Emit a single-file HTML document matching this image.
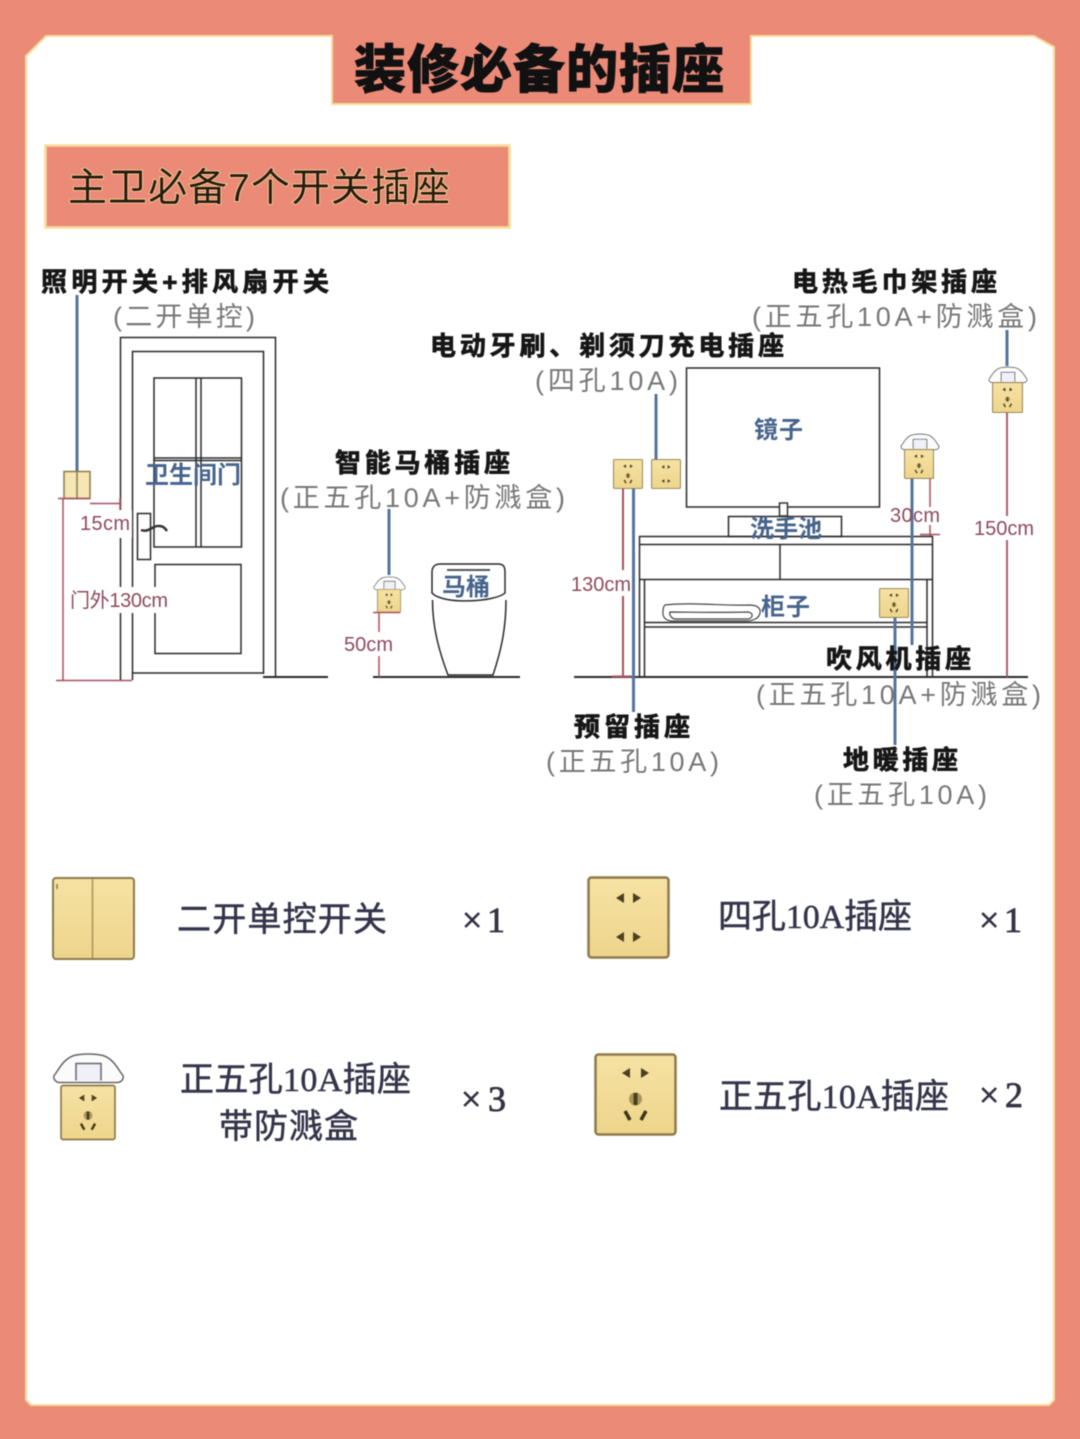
<!DOCTYPE html>
<html lang="zh"><head><meta charset="utf-8"><style>
html,body{margin:0;padding:0;background:#ec8a78}
svg{display:block;filter:blur(.55px)}
text{font-family:"Liberation Sans","Noto Sans CJK SC",sans-serif}
.lb{font-size:26px;font-weight:700;fill:#161616;stroke:#161616;stroke-width:.7}
.sb{font-size:27px;fill:#777}
.bl{font-size:24px;font-weight:700;fill:#46648c}
.rd{font-size:20px;fill:#8e4a5c}
.it{font-size:34px;fill:#34344a;stroke:#34344a;stroke-width:.5;font-family:"Liberation Serif","Noto Sans CJK SC",serif}
.q{font-size:36px;fill:#333344;stroke:#333344;stroke-width:.8;font-family:"Liberation Serif",serif}
.k{fill:none;stroke:#2a2a2a;stroke-width:1.5}
.bw{stroke:#55759c;stroke-width:3;fill:none}
.rw{stroke:#a8505c;stroke-width:1.5;fill:none}
</style></head><body>
<svg width="1080" height="1439" viewBox="0 0 1080 1439" xmlns="http://www.w3.org/2000/svg">
<defs>
<linearGradient id="g" x1="0" y1="0" x2="0" y2="1"><stop offset="0" stop-color="#f6e2a4"/><stop offset="1" stop-color="#eed58c"/></linearGradient>
<symbol id="s5" viewBox="0 0 83 83"><rect x="1.500" y="1.500" width="80" height="80" rx="3" fill="url(#g)" stroke="#8d7a4a" stroke-width="2.500"/><path d="M28 20l8-5v10zM55 20l-8-5v10z" fill="#4c3f20"/><circle cx="41.500" cy="46" r="6.500" fill="#a8965a"/><rect x="39.500" y="40" width="4" height="12" fill="#4c3f20"/><path d="M31 58l5 9M52 58l-5 9" stroke="#3f3418" stroke-width="3.500"/></symbol>
<symbol id="s4" viewBox="0 0 83 83"><rect x="1.500" y="1.500" width="80" height="80" rx="3" fill="url(#g)" stroke="#8d7a4a" stroke-width="2.500"/><path d="M29 22l8-5v10zM54 22l-8-5v10zM29 61l8-5v10zM54 61l-8-5v10z" fill="#4c3f20"/></symbol>
<symbol id="cv" viewBox="0 0 73 30"><path d="M2 22C6 18 10 6 22 2c8-2 21-2 29 0 12 4 16 16 20 20 1 4-2 7-6 7H8c-4 0-7-3-6-7z" fill="#fbfbfb" stroke="#666" stroke-width="1.500"/><path d="M24 27V10h25v17" fill="#f0f0f8" stroke="#666" stroke-width="1.500"/></symbol>
</defs>
<rect width="1080" height="1439" fill="#ec8a78"/>
<path d="M46 36H1034L1054 47V1400L1049 1405H31L26 1400V56Z" fill="#fff" stroke="#f7dc98" stroke-width="2"/>
<!-- title -->
<path d="M332 36V104H751V36" fill="#ec8a78" stroke="#f7dc98" stroke-width="2"/><rect x="333" y="30" width="417" height="8" fill="#ec8a78"/>
<text x="354" y="88" font-size="52" font-weight="900" textLength="370" lengthAdjust="spacing" fill="#111" stroke="#111" stroke-width=".8">装修必备的插座</text>
<rect x="45.500" y="145.500" width="464" height="82" fill="#ec8a78" stroke="#f7dc98" stroke-width="2.500"/>
<text x="68" y="201" font-size="39" textLength="382" lengthAdjust="spacing" fill="#2a1a10" stroke="#f7dc98" stroke-width="1.600" style="paint-order:stroke">主卫必备7个开关插座</text>

<!-- left labels -->
<text class="lb" x="41" y="291" textLength="288" lengthAdjust="spacing">照明开关+排风扇开关</text>
<text class="sb" x="113" y="326" textLength="142" lengthAdjust="spacing">(二开单控)</text>
<text class="lb" x="335" y="472" textLength="175" lengthAdjust="spacing">智能马桶插座</text>
<text class="sb" x="280" y="507" textLength="285" lengthAdjust="spacing">(正五孔10A+防溅盒)</text>

<!-- door -->
<path class="k" d="M120.500 680V337.500H275.500V677M132.500 680V351.500H263.500V674M132.500 673H263.500"/>
<path class="k" d="M154 547V378H241.500V547ZM196 378V547M201 378V547M154 458H241M154 460.500H241"/>
<rect class="k" x="155" y="564.500" width="86" height="89"/>
<rect x="137.500" y="513.500" width="13" height="46" fill="#fff" stroke="#2a2a2a" stroke-width="1.500"/>
<path d="M141 530c8 3 12-5 18-4 4 0 6 2 8 5" fill="none" stroke="#333" stroke-width="2.500"/>
<path class="k" d="M263 677H328M373 677H520M574 677H1028" style="stroke-width:2"/>
<path class="bw" d="M77 295V471"/>
<rect x="64" y="471.500" width="26" height="27" fill="#f6e6b4" stroke="#8d7a4a" stroke-width="1.500"/><path d="M77 472V498" stroke="#8d7a4a" stroke-width="1.500"/>
<path class="rw" d="M58 498.500H90M63 498V680M56 680.500H132M90 503.500H120M120 498V510"/>
<rect x="118" y="510" width="14" height="28" fill="#fff"/>
<text class="rd" x="80" y="530" textLength="50" lengthAdjust="spacing">15cm</text>
<rect x="70" y="587" width="98" height="26" fill="#fff"/>
<text class="rd" x="70" y="607" textLength="98" lengthAdjust="spacing">门外130cm</text>
<text class="bl" x="145" y="483" textLength="96" lengthAdjust="spacing">卫生间门</text>

<!-- toilet -->
<path class="bw" d="M389 509V575"/>
<use href="#cv" x="373" y="576" width="33" height="15"/>
<use href="#s5" x="377" y="589" width="24" height="24"/>
<path class="rw" d="M373 612.500H400M379 613V632M379 656V677" />
<text class="rd" x="344" y="651" textLength="49" lengthAdjust="spacing">50cm</text>
<path class="k" d="M432 572c0-5 3-8 8-8h58c5 0 7 2 7 8v21c-10 9-62 12-73 0ZM432.500 600c0 30 8 55 15.500 75H493c8-24 13-46 13-75"/>
<path d="M447 570H490" stroke="#555" stroke-width="2"/>
<text class="bl" x="442" y="595" textLength="48" lengthAdjust="spacing">马桶</text>

<!-- middle labels -->
<text class="lb" x="430" y="355" textLength="354" lengthAdjust="spacing">电动牙刷、剃须刀充电插座</text>
<text class="sb" x="535" y="390" textLength="143" lengthAdjust="spacing">(四孔10A)</text>
<text class="lb" x="792" y="291" textLength="205" lengthAdjust="spacing">电热毛巾架插座</text>
<text class="sb" x="752" y="326" textLength="285" lengthAdjust="spacing">(正五孔10A+防溅盒)</text>

<!-- vanity -->
<rect class="k" x="686.500" y="368" width="193" height="139"/>
<rect x="779.500" y="503" width="8" height="13" fill="#fff" stroke="#333" stroke-width="1.500"/>
<rect class="k" x="728.500" y="516.500" width="113" height="20"/>
<path class="k" d="M639.500 676V536.500H932.500V676M639.500 544.500H932.500M639.500 579.500H932.500M780 545V579M644.500 580V676M927 580V676M644 622.500H927M644 627H927"/>
<path d="M665 605c25-3 60 1 84 0 8 0 12 3 11 8-1 6-8 8-14 8H672c-6 0-10-4-9-10 0-3 1-5 2-6ZM670 612c20 0 50 1 78 0 6 1 5 6 0 7H676c-5 0-7-5-6-7Z" fill="#fff" stroke="#444" stroke-width="1.200"/>
<text class="bl" x="754" y="438" textLength="49" lengthAdjust="spacing">镜子</text>
<text class="bl" x="750" y="537" textLength="72" lengthAdjust="spacing">洗手池</text>
<text class="bl" x="761" y="615" textLength="49" lengthAdjust="spacing">柜子</text>

<!-- sockets & wires -->
<path class="rw" d="M623 488V570M623 596V677M612 676.500H635" style="stroke-width:2"/>
<path class="bw" d="M633.500 488V712M656 394V460M895 617V745M912 478V645M1007 330V366"/>
<path class="rw" d="M920 477.500H934M930 478V507M930 525V536M920 534.500H940"/>
<path class="rw" d="M1007 412V516M1007 540V677" style="stroke:#a86470;stroke-width:2"/>
<use href="#s5" x="613" y="459" width="30" height="30"/>
<use href="#s4" x="651" y="459" width="30" height="30"/>
<use href="#s5" x="879" y="588" width="30" height="30"/>
<use href="#cv" x="900" y="433" width="40" height="18"/>
<use href="#s5" x="904" y="449" width="30" height="30"/>
<use href="#cv" x="988" y="366" width="40" height="18"/>
<use href="#s5" x="992" y="382" width="31" height="31"/>
<text class="rd" x="890" y="522" textLength="50" lengthAdjust="spacing">30cm</text>
<text class="rd" x="571" y="591" textLength="60" lengthAdjust="spacing">130cm</text>
<text class="rd" x="974" y="535" textLength="60" lengthAdjust="spacing">150cm</text>

<text class="lb" x="826" y="668" textLength="145" lengthAdjust="spacing">吹风机插座</text>
<text class="sb" x="756" y="704" textLength="285" lengthAdjust="spacing">(正五孔10A+防溅盒)</text>
<text class="lb" x="574" y="736" textLength="116" lengthAdjust="spacing">预留插座</text>
<text class="sb" x="546" y="771" textLength="173" lengthAdjust="spacing">(正五孔10A)</text>
<text class="lb" x="843" y="769" textLength="115" lengthAdjust="spacing">地暖插座</text>
<text class="sb" x="814" y="804" textLength="173" lengthAdjust="spacing">(正五孔10A)</text>

<!-- legend -->
<rect x="53" y="878" width="81" height="81" rx="3" fill="url(#g)" stroke="#8d7a4a" stroke-width="2"/>
<path d="M92.500 879V958" stroke="#a89256" stroke-width="1.500"/><path d="M57 884V889" stroke="#8d7a4a" stroke-width="1.500"/>
<text class="it" x="177" y="931" textLength="210" lengthAdjust="spacing">二开单控开关</text>
<text class="q" x="462" y="932" textLength="43" lengthAdjust="spacing">×1</text>
<use href="#s4" x="587" y="876" width="83" height="83"/>
<text class="it" x="718" y="928" textLength="194" lengthAdjust="spacing">四孔10A插座</text>
<text class="q" x="979" y="932" textLength="43" lengthAdjust="spacing">×1</text>
<use href="#cv" x="52" y="1053" width="73" height="31"/>
<use href="#s5" x="60" y="1084" width="56" height="57"/>
<text class="it" x="180" y="1091" textLength="231" lengthAdjust="spacing">正五孔10A插座</text>
<text class="it" x="219" y="1138" textLength="139" lengthAdjust="spacing">带防溅盒</text>
<text class="q" x="461" y="1111" textLength="45" lengthAdjust="spacing">×3</text>
<use href="#s5" x="594" y="1053" width="83" height="83"/>
<text class="it" x="719" y="1108" textLength="230" lengthAdjust="spacing">正五孔10A插座</text>
<text class="q" x="979" y="1107" textLength="44" lengthAdjust="spacing">×2</text>
</svg>
</body></html>
